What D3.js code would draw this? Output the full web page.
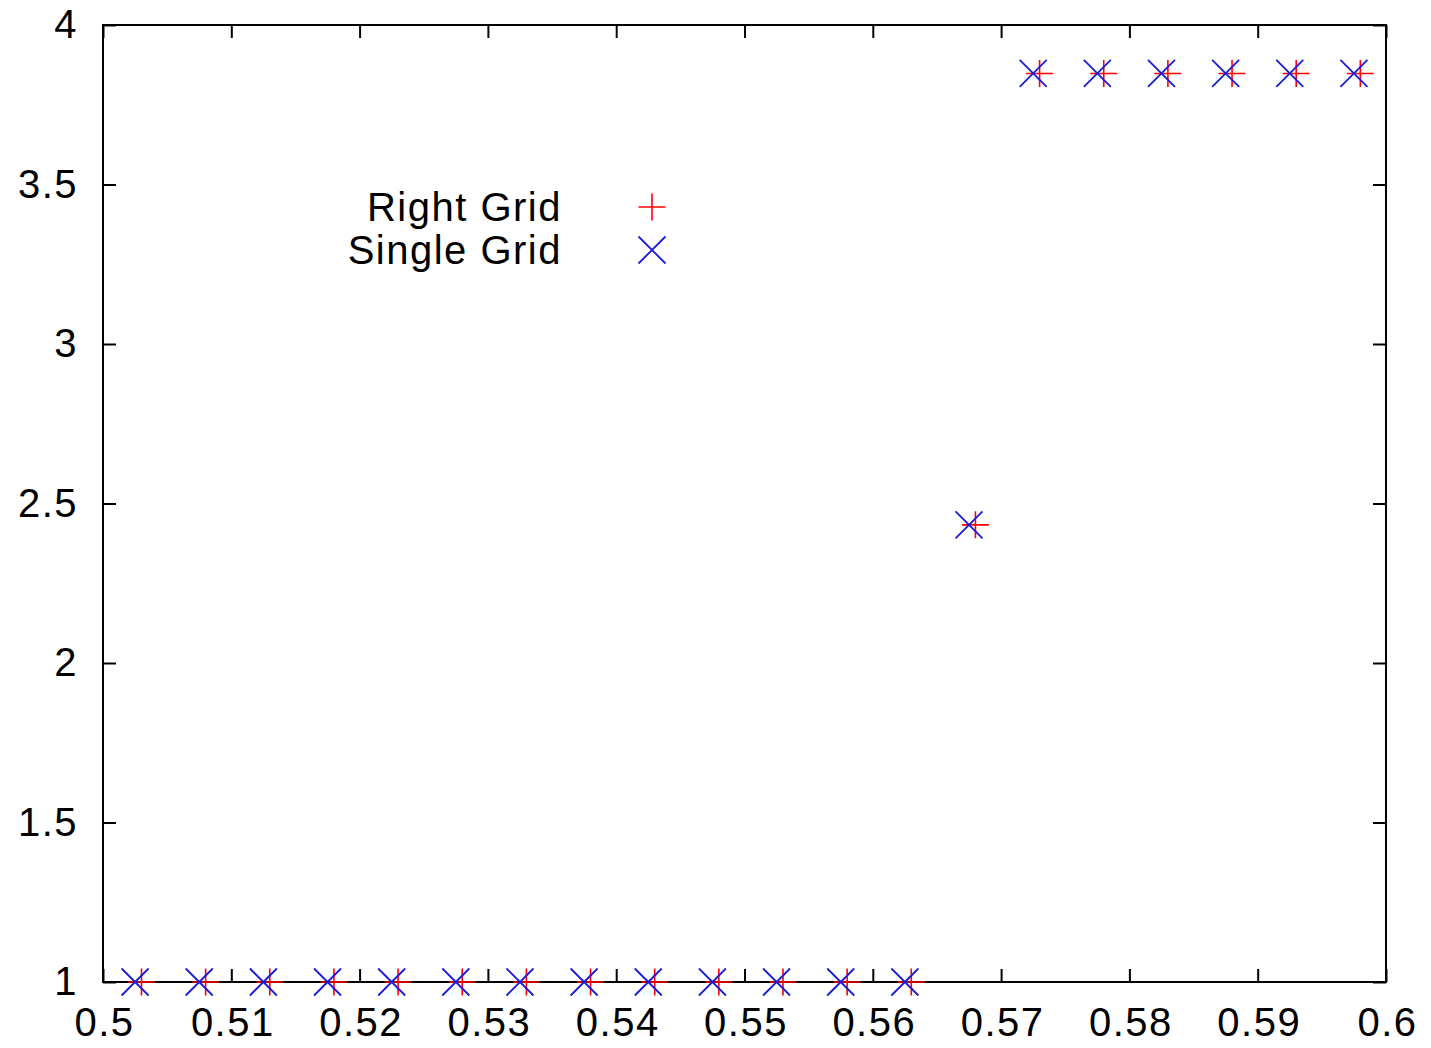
<!DOCTYPE html>
<html lang="en">

<head>
  <meta charset="utf-8" />
  <title>Right Grid vs Single Grid</title>
  <script src="https://d3js.org/d3.v7.min.js"></script>
  <style>
    body {
      margin: 0;
      background: white;
    }

    text {
      font-family: "Liberation Sans", Arial, sans-serif;
      font-size: 40px;
      letter-spacing: 1.5px;
      fill: black;
    }

    .frame {
      fill: none;
      stroke: black;
      stroke-width: 2px;
    }

    .tick-mark {
      stroke: black;
      stroke-width: 2px;
    }
  </style>
</head>

<body>
  <svg width="1431" height="1048"></svg>

  <script>
    // series: Right Grid (+, red)
    const rightX = [0.503, 0.508, 0.513, 0.518, 0.523, 0.528, 0.533, 0.538, 0.543, 0.548, 0.553, 0.558, 0.563,
      0.568, 0.573, 0.578, 0.583, 0.588, 0.593, 0.598];
    const rightY = [1, 1, 1, 1, 1, 1, 1, 1, 1, 1, 1, 1, 1,
      2.433, 3.848, 3.848, 3.848, 3.848, 3.848, 3.848];

    // series: Single Grid (x, blue)
    const singleX = [0.5025, 0.5075, 0.5125, 0.5175, 0.5225, 0.5275, 0.5325, 0.5375, 0.5425, 0.5475, 0.5525, 0.5575, 0.5625,
      0.5675, 0.5725, 0.5775, 0.5825, 0.5875, 0.5925, 0.5975];
    const singleY = [1, 1, 1, 1, 1, 1, 1, 1, 1, 1, 1, 1, 1,
      2.433, 3.848, 3.848, 3.848, 3.848, 3.848, 3.848];

    // tick labels
    const xTicks = [0.5, 0.51, 0.52, 0.53, 0.54, 0.55, 0.56, 0.57, 0.58, 0.59, 0.6];
    const xTickLabels = ["0.5", "0.51", "0.52", "0.53", "0.54", "0.55", "0.56", "0.57", "0.58", "0.59", "0.6"];
    const yTicks = [1, 1.5, 2, 2.5, 3, 3.5, 4];
    const yTickLabels = ["1", "1.5", "2", "2.5", "3", "3.5", "4"];

    const seriesNames = ["Right Grid", "Single Grid"];

    const svg = d3.select("svg");
    const plotL = 103, plotR = 1386, plotT = 25, plotB = 982;
    const tickLen = 13;
    const half = 13.5; // marker half size

    const x = d3.scaleLinear().domain([0.5, 0.6]).range([plotL, plotR]);
    const y = d3.scaleLinear().domain([1, 4]).range([plotB, plotT]);

    // axes (inner ticks on all four sides, gnuplot style)
    const xAxisB = d3.axisBottom(x).tickValues(xTicks).tickSize(-tickLen)
      .tickFormat((d, i) => xTickLabels[i]).tickPadding(26);
    const xAxisT = d3.axisTop(x).tickValues(xTicks).tickSize(-tickLen).tickFormat("");
    const yAxisL = d3.axisLeft(y).tickValues(yTicks).tickSize(-tickLen)
      .tickFormat((d, i) => yTickLabels[i]).tickPadding(25);
    const yAxisR = d3.axisRight(y).tickValues(yTicks).tickSize(-tickLen).tickFormat("");

    function styleAxis(g) {
      g.select(".domain").remove();
      g.selectAll(".tick line").attr("class", "tick-mark");
      g.selectAll(".tick text").style("font-size", "40px")
        .style("font-family", "'Liberation Sans', Arial, sans-serif");
    }

    const gxB = svg.append("g").attr("transform", `translate(0,${plotB})`).call(xAxisB).call(styleAxis);
    svg.append("g").attr("transform", `translate(0,${plotT})`).call(xAxisT).call(styleAxis);
    svg.append("g").attr("transform", `translate(${plotL},0)`).call(yAxisL).call(styleAxis);
    svg.append("g").attr("transform", `translate(${plotR},0)`).call(yAxisR).call(styleAxis);

    // nudge x labels right by half the trailing letter-spacing
    gxB.selectAll(".tick text").attr("dx", 1);

    svg.append("rect").attr("class", "frame")
      .attr("x", plotL).attr("y", plotT)
      .attr("width", plotR - plotL).attr("height", plotB - plotT);

    const plusPath = `M${-half},0H${half}M0,${-half}V${half}`;
    const crossPath = `M${-half},${-half}L${half},${half}M${-half},${half}L${half},${-half}`;

    // Right Grid points
    svg.append("g").selectAll("path")
      .data(rightX.map((v, i) => [v, rightY[i]]))
      .join("path")
      .attr("d", plusPath)
      .attr("transform", d => `translate(${x(d[0])},${y(d[1])})`)
      .attr("stroke", "#ff0000").attr("stroke-width", 1.6).attr("fill", "none");

    // Single Grid points
    svg.append("g").selectAll("path")
      .data(singleX.map((v, i) => [v, singleY[i]]))
      .join("path")
      .attr("d", crossPath)
      .attr("transform", d => `translate(${x(d[0])},${y(d[1])})`)
      .attr("stroke", "#1a1adc").attr("stroke-width", 1.8).attr("fill", "none");

    // legend
    const legend = svg.append("g");
    const legendRows = [
      { name: seriesNames[0], path: plusPath, color: "#ff0000", w: 1.6, cy: 207 },
      { name: seriesNames[1], path: crossPath, color: "#1a1adc", w: 1.8, cy: 250 }
    ];
    legendRows.forEach(r => {
      legend.append("text")
        .attr("x", 562).attr("y", r.cy + 14)
        .attr("text-anchor", "end")
        .text(r.name);
      legend.append("path")
        .attr("d", r.path)
        .attr("transform", `translate(652,${r.cy})`)
        .attr("stroke", r.color).attr("stroke-width", r.w).attr("fill", "none");
    });
  </script>
</body>

</html>
